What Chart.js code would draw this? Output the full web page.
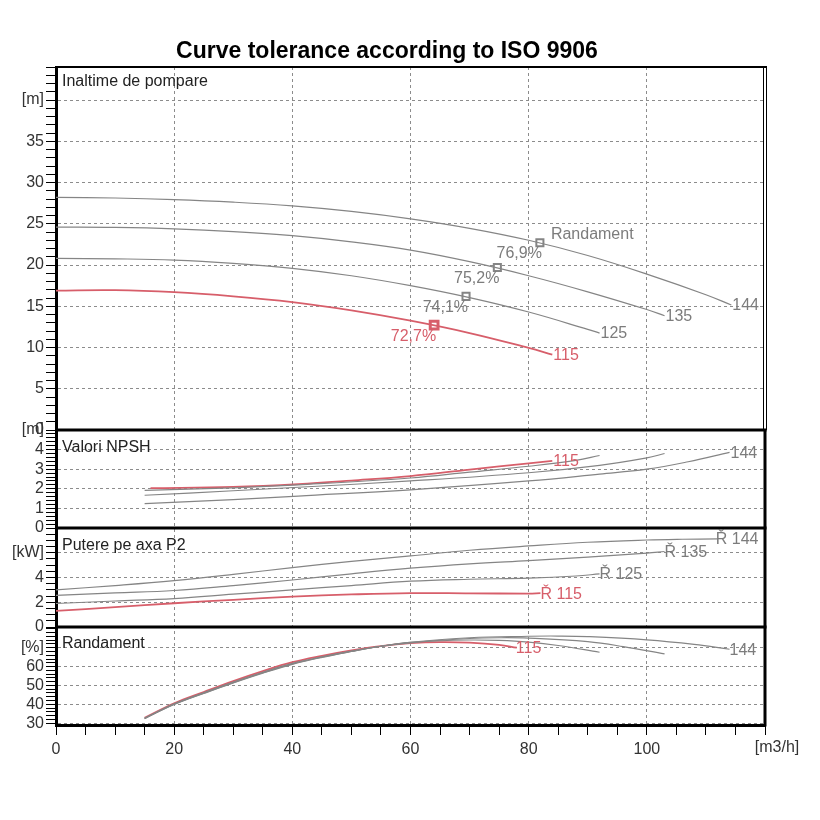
<!DOCTYPE html>
<html>
<head>
<meta charset="utf-8">
<title>Curve tolerance according to ISO 9906</title>
<script src="https://cdn.jsdelivr.net/npm/chart.js@4.4.1/dist/chart.umd.min.js"></script>
<style>
  html, body { margin: 0; padding: 0; background: #fff; }
  #wrap { width: 820px; height: 820px; }
</style>
</head>
<body>
<div id="wrap"><canvas id="pumpChart" width="820" height="820"></canvas></div>
<script>
// --- head curves (Q [m3/h] -> H [m]) ---
var qHead144 = [0, 10, 20, 30, 40, 50, 60, 70, 80, 90, 100, 110, 114.3];
var head144  = [28.2, 28.12, 27.93, 27.62, 27.17, 26.5, 25.6, 24.45, 23.0, 21.15, 18.9, 16.4, 15.15];
var qHead135 = [0, 10, 20, 30, 40, 50, 60, 70, 80, 90, 100, 103];
var head135  = [24.6, 24.55, 24.38, 24.05, 23.55, 22.8, 21.8, 20.4, 18.7, 16.75, 14.6, 13.85];
var qHead125 = [0, 10, 20, 30, 40, 50, 60, 70, 80, 90, 92];
var head125  = [20.8, 20.75, 20.6, 20.2, 19.6, 18.7, 17.5, 16.05, 14.3, 12.2, 11.75];
var qHead115 = [0, 10, 20, 30, 40, 50, 60, 70, 80, 84];
var head115  = [16.9, 16.95, 16.7, 16.2, 15.5, 14.5, 13.25, 11.75, 9.95, 9.15];

// best efficiency points on the head curves (115, 125, 135, 144)
var bepQ = [64, 69.4, 74.7, 81.9];
var bepH = [12.7, 16.2, 19.7, 22.7];
var bepText = ['72,7%', '74,1%', '75,2%', '76,9%'];

// --- NPSH [m] ---
var qNpsh144 = [15, 30, 41, 60, 80, 92, 100, 107, 114];
var npsh144  = [1.24, 1.45, 1.63, 1.95, 2.4, 2.75, 3.0, 3.38, 3.86];
var qNpsh135 = [15, 30, 41, 60, 80, 92, 100, 103];
var npsh135  = [1.67, 1.9, 2.08, 2.4, 2.82, 3.2, 3.58, 3.8];
var qNpsh125 = [15, 30, 41, 60, 70, 80, 88, 92];
var npsh125  = [1.92, 2.05, 2.2, 2.55, 2.85, 3.15, 3.45, 3.7];
var qNpsh115 = [16, 30, 41, 50, 60, 70, 80, 84];
var npsh115  = [2.03, 2.1, 2.24, 2.42, 2.65, 2.98, 3.3, 3.42];

// --- shaft power P2 [kW] ---
var qPow144 = [0, 10, 20, 30, 40, 50, 60, 70, 80, 90, 100, 106, 112];
var pow144  = [3.0, 3.35, 3.75, 4.25, 4.8, 5.3, 5.75, 6.2, 6.55, 6.85, 7.03, 7.09, 7.12];
var qPow135 = [0, 10, 20, 30, 40, 50, 60, 70, 80, 90, 100, 103];
var pow135  = [2.55, 2.75, 2.95, 3.35, 3.8, 4.3, 4.75, 5.1, 5.37, 5.65, 5.97, 6.1];
var qPow125 = [0, 10, 20, 30, 40, 50, 60, 70, 80, 88, 92];
var pow125  = [1.9, 2.1, 2.3, 2.65, 3.0, 3.35, 3.7, 3.86, 3.95, 4.12, 4.29];
var qPow115 = [0, 10, 20, 30, 40, 50, 60, 70, 80, 82];
var pow115  = [1.3, 1.6, 1.92, 2.2, 2.45, 2.63, 2.74, 2.72, 2.7, 2.73];

// --- efficiency [%] ---
var qEff144 = [15, 20, 25, 30, 35, 40, 45, 50, 55, 60, 70, 80, 85, 90, 100, 108, 114];
var eff144  = [32.4, 39.9, 45.7, 51.3, 56.5, 61.2, 64.9, 68.0, 70.8, 72.9, 75.3, 76.1, 76.2, 75.9, 74.2, 71.8, 69.2];
var qEff135 = [15, 20, 25, 30, 35, 40, 45, 50, 55, 60, 70, 75, 80, 90, 96, 103];
var eff135  = [32.5, 40.0, 45.9, 51.5, 56.7, 61.4, 65.0, 68.1, 70.8, 72.8, 74.9, 75.3, 75.1, 73.2, 70.6, 66.7];
var qEff125 = [15, 20, 25, 30, 35, 40, 45, 50, 55, 60, 65, 70, 75, 80, 85, 92];
var eff125  = [32.6, 40.2, 46.1, 51.8, 57.0, 61.7, 65.2, 68.2, 70.8, 72.6, 73.7, 74.1, 73.9, 73.0, 71.2, 67.6];
var qEff115 = [15, 20, 25, 30, 35, 40, 45, 50, 55, 60, 65, 70, 75, 78];
var eff115  = [32.8, 40.5, 46.5, 52.3, 57.6, 62.3, 65.7, 68.6, 70.9, 72.4, 73.0, 72.7, 71.5, 70.0];

var GRAY = '#858585';
var RED = '#d75e6a';
var GRID = '#8c8c8c';
var FONT = '"Liberation Sans", Arial, sans-serif';

function pts(q, v) {
    return q.map(function(x, i){ return {x: x, y: v[i]}; });
}

function curveSet(q, v, axis, color, label, dx) {
    return {
        data: pts(q, v),
        yAxisID: axis,
        borderColor: color,
        borderWidth: color == RED ? 1.8 : 1.2,
        pointRadius: 0,
        fill: false,
        tension: 0.4,
        endLabel: label,
        labelDx: dx
    };
}

var datasets = [
    curveSet(qHead144, head144, 'yH', GRAY, '144', 1),
    curveSet(qHead135, head135, 'yH', GRAY, '135', 1),
    curveSet(qHead125, head125, 'yH', GRAY, '125', 1),
    curveSet(qHead115, head115, 'yH', RED, '115', 1),
    curveSet(qNpsh144, npsh144, 'yN', GRAY, '144', 1),
    curveSet(qNpsh135, npsh135, 'yN', GRAY, null, 0),
    curveSet(qNpsh125, npsh125, 'yN', GRAY, null, 0),
    curveSet(qNpsh115, npsh115, 'yN', RED, '115', 1),
    curveSet(qPow144, pow144, 'yP', GRAY, 'Ř 144', -2),
    curveSet(qPow135, pow135, 'yP', GRAY, 'Ř 135', 0),
    curveSet(qPow125, pow125, 'yP', GRAY, 'Ř 125', 0),
    curveSet(qPow115, pow115, 'yP', RED, 'Ř 115', 0),
    curveSet(qEff144, eff144, 'yE', GRAY, '144', 0),
    curveSet(qEff135, eff135, 'yE', GRAY, null, 0),
    curveSet(qEff125, eff125, 'yE', GRAY, null, 0),
    curveSet(qEff115, eff115, 'yE', RED, '115', -1),
    {
        data: pts(bepQ, bepH),
        yAxisID: 'yH',
        showLine: false,
        pointStyle: 'rect',
        pointRadius: [5.5, 5, 5, 5],
        pointBorderWidth: [3, 2, 2, 2],
        pointBorderColor: [RED, GRAY, GRAY, GRAY],
        pointBackgroundColor: '#fff',
        pointLabels: bepText
    }
];

function near(v, r) { return Math.abs(v - r) < 1e-6; }
function gridIf(test) {
    return function(c) {
        return (c.tick && test(c.tick.value)) ? GRID : 'rgba(0,0,0,0)';
    };
}
function fitLeft(s) { s.width = 56; }

var tickFont = {family: FONT, size: 16};

function yAxis(weight, stackWeight, min, max, step, labelFn, gridFn, tickColorFn) {
    return {
        type: 'linear',
        position: 'left',
        stack: 'pump',
        stackWeight: stackWeight,
        weight: weight,
        min: min,
        max: max,
        afterFit: fitLeft,
        ticks: {stepSize: step, autoSkip: false, padding: 2, color: '#333', font: tickFont, includeBounds: false,
                callback: labelFn},
        grid: {color: gridIf(gridFn), lineWidth: 1, tickLength: 10,
               tickColor: tickColorFn || '#000'},
        border: {display: true, color: '#000', width: 3, dash: [3, 3]}
    };
}

var panelPlugin = {
    id: 'panels',
    beforeDraw: function(chart) {
        var ctx = chart.ctx;
        ctx.save();
        ctx.fillStyle = '#fff';
        ctx.fillRect(0, 0, chart.width, chart.height);
        ctx.restore();
    },
    afterDatasetsDraw: function(chart) {
        var ctx = chart.ctx;
        ctx.save();
        ctx.font = '16px ' + FONT;
        chart.data.datasets.forEach(function(ds, i) {
            var meta = chart.getDatasetMeta(i);
            if (ds.endLabel) {
                var last = meta.data[meta.data.length - 1];
                ctx.fillStyle = ds.borderColor == RED ? RED : '#7c7c7c';
                ctx.textAlign = 'left';
                ctx.textBaseline = 'middle';
                ctx.fillText(ds.endLabel, last.x + ds.labelDx, last.y + 1);
            }
            if (ds.pointLabels) {
                meta.data.forEach(function(p, k) {
                    ctx.fillStyle = k == 0 ? RED : '#7c7c7c';
                    ctx.textAlign = 'right';
                    ctx.textBaseline = 'middle';
                    ctx.fillText(ds.pointLabels[k], p.x + 2, p.y + 11);
                });
                var top = meta.data[meta.data.length - 1];
                ctx.textAlign = 'left';
                ctx.fillStyle = '#7c7c7c';
                ctx.fillText('Randament', top.x + 11, top.y - 8);
            }
        });
        ctx.restore();
    },
    afterDraw: function(chart) {
        var ctx = chart.ctx;
        var a = chart.chartArea;
        var s = chart.scales;
        ctx.save();
        ctx.strokeStyle = '#000';

        // thin top frame of head panel
        ctx.lineWidth = 2;
        ctx.beginPath();
        ctx.moveTo(a.left, a.top);
        ctx.lineTo(a.right + 2, a.top);
        ctx.stroke();

        // double right edge of head panel
        ctx.lineWidth = 1;
        ctx.beginPath();
        ctx.moveTo(a.right - 1.5, a.top);
        ctx.lineTo(a.right - 1.5, s.yH.bottom);
        ctx.moveTo(a.right + 1.5, a.top);
        ctx.lineTo(a.right + 1.5, s.yH.bottom);
        ctx.stroke();

        // thick right edge of the lower panels
        ctx.lineWidth = 3;
        ctx.beginPath();
        ctx.moveTo(a.right, s.yH.bottom);
        ctx.lineTo(a.right, a.bottom + 1.5);
        ctx.stroke();

        // separators between panels
        [s.yH.bottom, s.yN.bottom, s.yP.bottom].forEach(function(y) {
            ctx.beginPath();
            ctx.moveTo(a.left, y);
            ctx.lineTo(a.right + 1.5, y);
            ctx.stroke();
        });

        // title
        ctx.fillStyle = '#000';
        ctx.font = 'bold 23px ' + FONT;
        ctx.textAlign = 'center';
        ctx.textBaseline = 'alphabetic';
        ctx.fillText('Curve tolerance according to ISO 9906', 387, 58);

        // panel names
        ctx.font = '16px ' + FONT;
        ctx.fillStyle = '#222';
        ctx.textAlign = 'left';
        ctx.fillText('Inaltime de pompare', 62, s.yH.top + 19);
        ctx.fillText('Valori NPSH', 62, s.yN.top + 21.5);
        ctx.fillText('Putere pe axa P2', 62, s.yP.top + 21.5);
        ctx.fillText('Randament', 62, s.yE.top + 21);

        // unit of the flow axis
        ctx.fillStyle = '#333';
        ctx.textAlign = 'center';
        ctx.textBaseline = 'top';
        ctx.fillText('[m3/h]', 777, s.x.top + 15);
        ctx.restore();
    }
};

var chart = new Chart(document.getElementById('pumpChart').getContext('2d'), {
    type: 'line',
    data: {datasets: datasets},
    options: {
        responsive: false,
        animation: false,
        devicePixelRatio: 1,
        layout: {padding: {top: 67, right: 55, bottom: 0, left: 0}},
        plugins: {legend: {display: false}, tooltip: {enabled: false}, title: {display: false}},
        scales: {
            x: {
                type: 'linear',
                position: 'bottom',
                min: 0,
                max: 120,
                afterFit: function(s) { s.height = 95; },
                ticks: {stepSize: 5, autoSkip: false, maxRotation: 0, padding: 5, color: '#333', font: tickFont,
                        callback: function(v) { return (v % 20 == 0 && v < 120) ? String(v) : ''; }},
                grid: {color: gridIf(function(v){ return v % 20 == 0 && v > 0 && v < 120; }),
                       lineWidth: 1, tickLength: 10, tickColor: '#000'},
                border: {display: true, color: '#000', width: 3, dash: [3, 3]}
            },
            yH: yAxis(4, 363, 0, 44, 1,
                function(v) { return v == 40 ? '[m]' : (v % 5 == 0 && v < 40 ? String(v) : ''); },
                function(v) { return v % 5 == 0 && v > 0; }),
            yN: yAxis(3, 98, 0, 5, 0.2,
                function(v) { var r = Math.round(v); if (!near(v, r)) return ''; return r == 5 ? '[m]' : String(r); },
                function(v) { var r = Math.round(v); return near(v, r) && r > 0 && r < 5; }),
            yP: yAxis(2, 99, 0, 8, 0.5,
                function(v) { if (v == 6) return '[kW]'; if (v == 8) return ''; return v % 2 == 0 ? String(v) : ''; },
                function(v) { return v == 2 || v == 4 || v == 6; }),
            yE: yAxis(1, 98, 29, 81, 1,
                function(v) { if (v == 70) return '[%]'; if (v == 80) return ''; return v % 10 == 0 ? String(v) : ''; },
                function(v) { return v % 10 == 0 && v >= 30 && v <= 70; },
                function(c) { return (c.tick && c.tick.value % 2 == 0) ? '#000' : 'rgba(0,0,0,0)'; })
        }
    },
    plugins: [panelPlugin]
});
</script>
</body>
</html>
